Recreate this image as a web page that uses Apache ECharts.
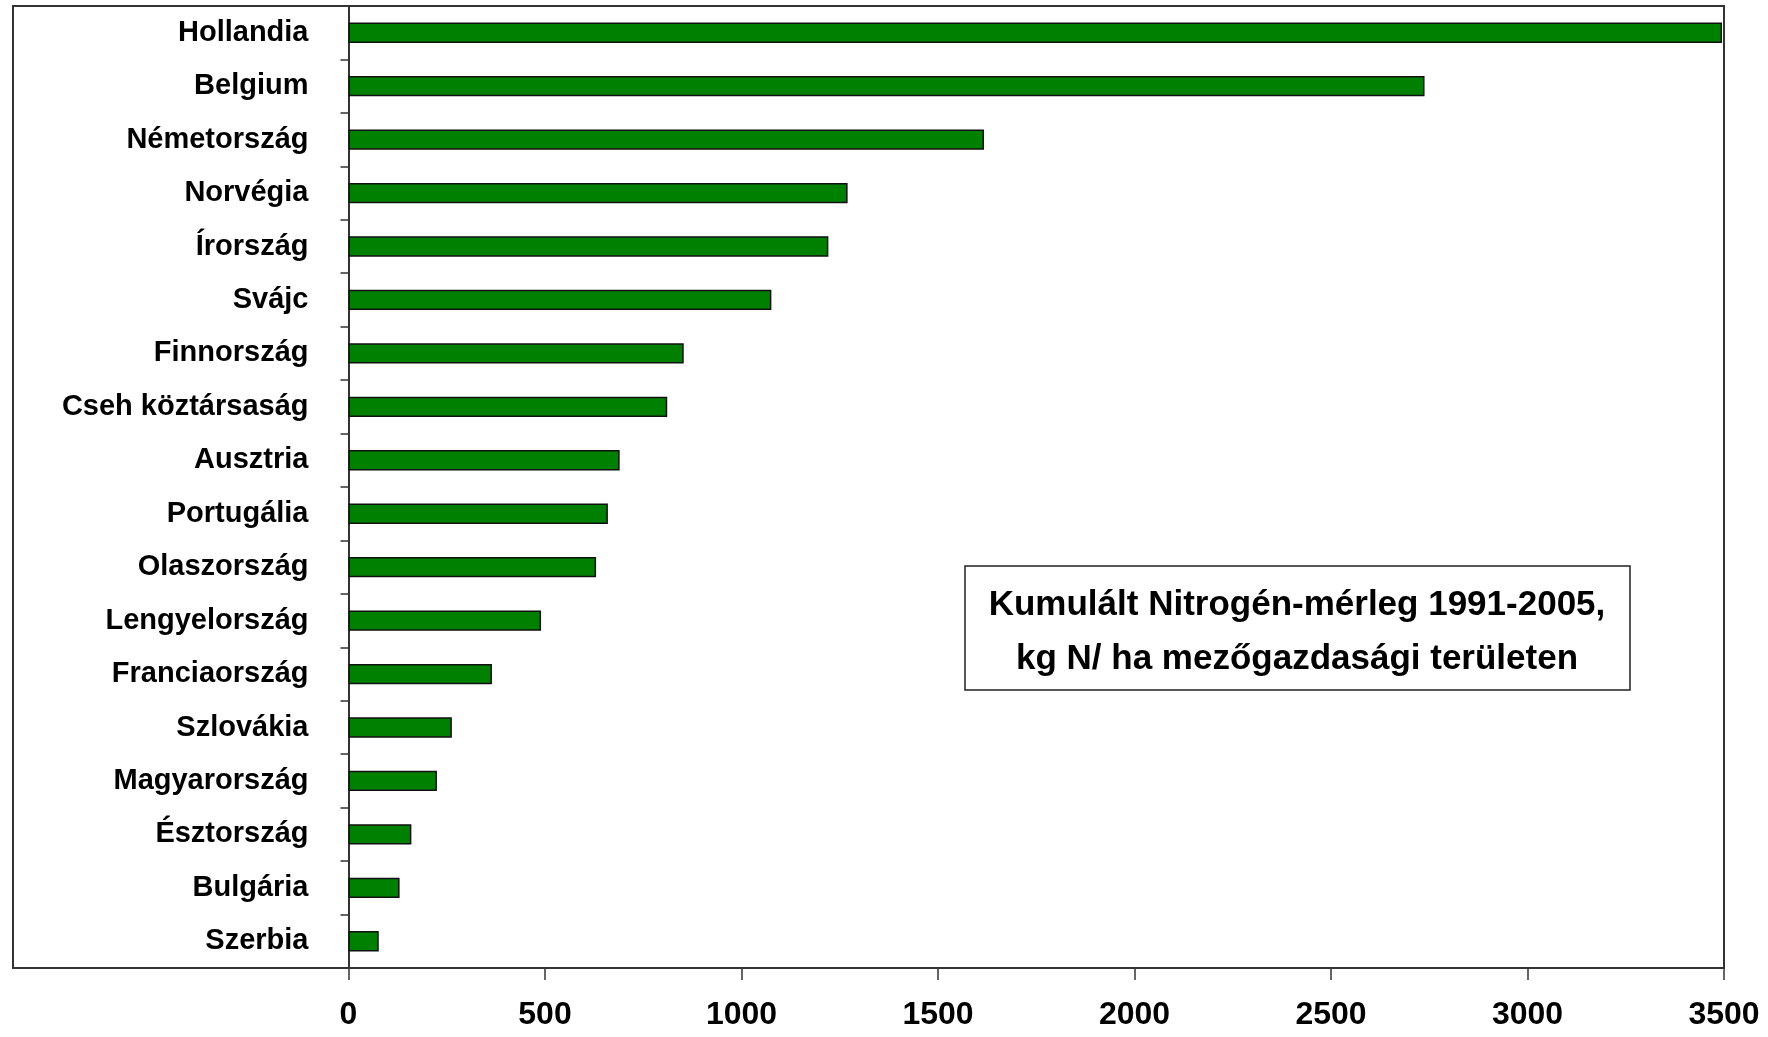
<!DOCTYPE html>
<html>
<head>
<meta charset="utf-8">
<script src="https://cdn.jsdelivr.net/npm/echarts@6/dist/echarts.min.js"></script>
<style>
  html, body { margin: 0; padding: 0; background: #ffffff; }
  #chart { width: 1768px; height: 1037px; }
</style>
</head>
<body>
<div id="chart"></div>
<script>
// Countries, top to bottom
const countries = [
  'Hollandia', 'Belgium', 'Németország', 'Norvégia', 'Írország', 'Svájc',
  'Finnország', 'Cseh köztársaság', 'Ausztria', 'Portugália', 'Olaszország',
  'Lengyelország', 'Franciaország', 'Szlovákia', 'Magyarország', 'Észtország',
  'Bulgária', 'Szerbia'
];

// Cumulative nitrogen balance 1991-2005, kg N / ha agricultural land
const nitrogenBalance = [
  3495, 2738, 1617, 1270, 1221, 1076,
  853, 811, 690, 660, 630,
  490, 365, 263, 225, 160,
  130, 77
];

// Value axis ticks
const xTicks = [0, 500, 1000, 1500, 2000, 2500, 3000, 3500];

const boxLines = [
  'Kumulált Nitrogén-mérleg 1991-2005,',
  'kg N/ ha mezőgazdasági területen'
];

const FONT = '"Liberation Sans", Arial, sans-serif';

const chart = echarts.init(document.getElementById('chart'), null, { renderer: 'canvas' });

chart.setOption({
  backgroundColor: '#ffffff',
  animation: false,
  grid: { left: 348.5, right: 44, top: 6, bottom: 69, containLabel: false },
  xAxis: {
    type: 'value',
    min: xTicks[0],
    max: xTicks[xTicks.length - 1],
    interval: xTicks[1] - xTicks[0],
    axisLine: { show: true, lineStyle: { color: '#333333', width: 2 } },
    axisTick: { show: true, length: 12, inside: false, lineStyle: { color: '#333333', width: 1.5 } },
    splitLine: { show: false },
    axisLabel: {
      margin: 31,
      color: '#000000',
      fontFamily: FONT,
      fontWeight: 'bold',
      fontSize: 32,
      formatter: (v) => String(v)
    }
  },
  yAxis: {
    type: 'category',
    data: countries,
    inverse: true,
    boundaryGap: true,
    axisLine: { show: true, lineStyle: { color: '#333333', width: 2 } },
    axisTick: { show: true, length: 8, inside: false, alignWithLabel: false, lineStyle: { color: '#333333', width: 1.5 } },
    splitLine: { show: false },
    axisLabel: {
      margin: 40,
      color: '#000000',
      fontFamily: FONT,
      fontWeight: 'bold',
      fontSize: 29
    }
  },
  series: [{
    type: 'bar',
    data: nitrogenBalance,
    barWidth: '38%',
    itemStyle: { color: '#008000', borderColor: '#111111', borderWidth: 1.5 }
  }],
  graphic: [
    {
      type: 'rect',
      silent: true,
      shape: { x: 13, y: 6, width: 1711, height: 962 },
      style: { fill: 'none', stroke: '#333333', lineWidth: 2 },
      z: 10
    },
    {
      type: 'rect',
      silent: true,
      shape: { x: 965, y: 566, width: 665, height: 124 },
      style: { fill: '#ffffff', stroke: '#222222', lineWidth: 1.5 },
      z: 10
    },
    {
      type: 'text',
      silent: true,
      x: 1297,
      y: 632,
      z: 11,
      style: {
        text: boxLines.join('\n'),
        fill: '#000000',
        font: 'bold 35px ' + FONT,
        align: 'center',
        verticalAlign: 'middle',
        lineHeight: 54
      }
    }
  ]
});
</script>
</body>
</html>
